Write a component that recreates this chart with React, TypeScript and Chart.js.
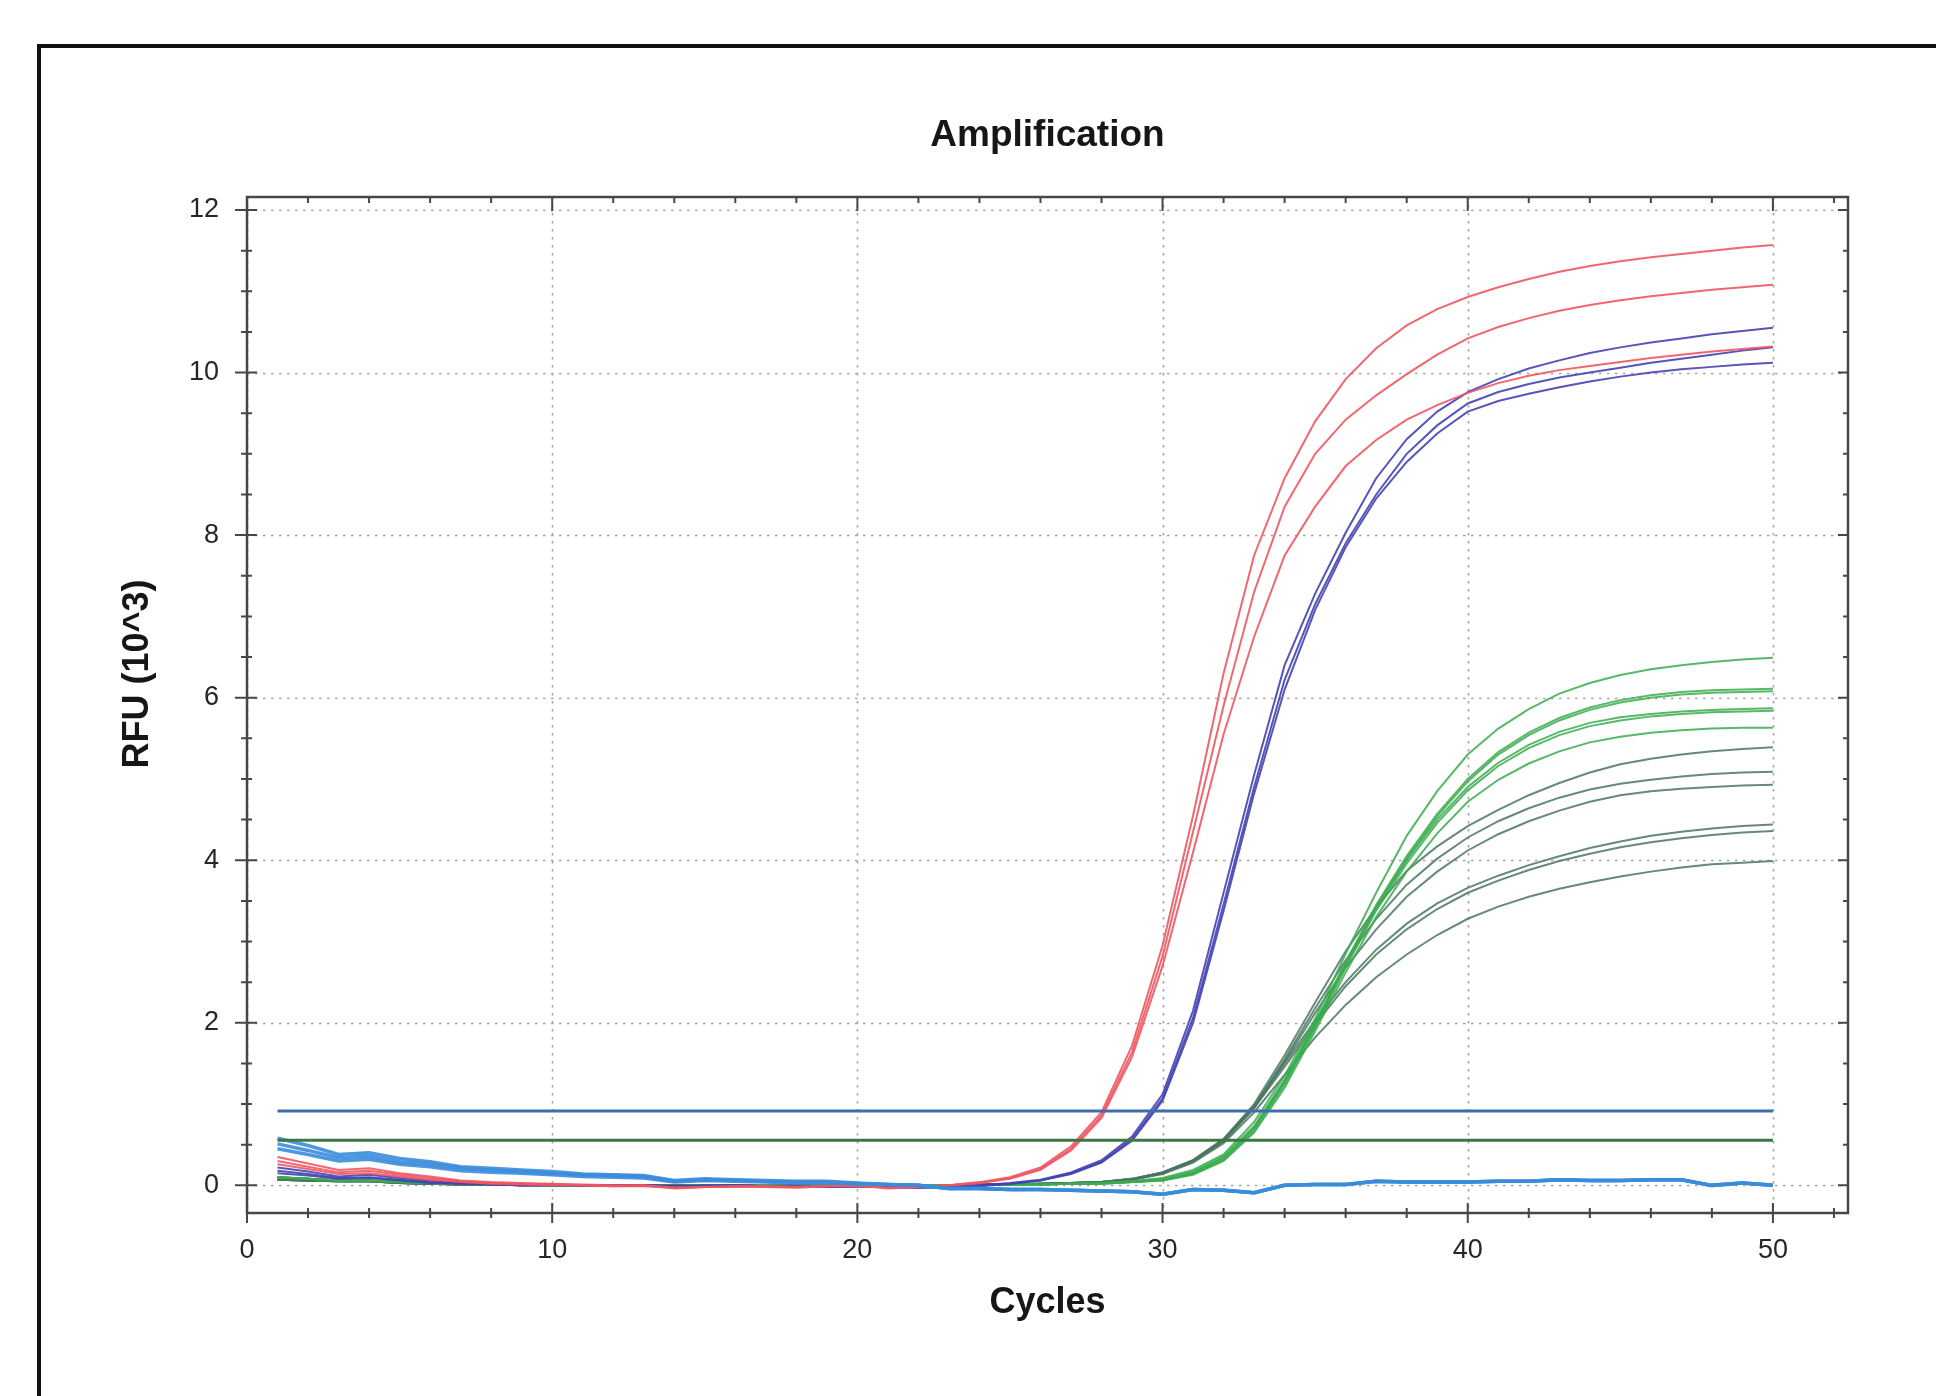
import React, { useEffect, useRef } from "react";
import { Chart, registerables } from "chart.js";

Chart.register(...registerables);

const W = 1936;
const H = 1396;

// ---------- data ----------
const cycles = [
  1, 2, 3, 4, 5, 6, 7, 8, 9, 10, 11, 12, 13, 14, 15, 16, 17, 18, 19, 20, 21, 22, 23, 24, 25,
  26, 27, 28, 29, 30, 31, 32, 33, 34, 35, 36, 37, 38, 39, 40, 41, 42, 43, 44, 45, 46, 47, 48, 49, 50,
];

const xMajorTicks = [0, 10, 20, 30, 40, 50];
const xMinorTicks = [0, 2, 4, 6, 8, 10, 12, 14, 16, 18, 20, 22, 24, 26, 28, 30, 32, 34, 36, 38, 40, 42, 44, 46, 48, 50, 52];
const yMajorTicks = [0, 2, 4, 6, 8, 10, 12];
const yMinorTicks = [
  0, 0.5, 1, 1.5, 2, 2.5, 3, 3.5, 4, 4.5, 5, 5.5, 6, 6.5, 7, 7.5, 8, 8.5, 9, 9.5, 10, 10.5, 11, 11.5, 12,
];

const thresholdBlue = 0.916;
const thresholdGreen = 0.555;
const thresholdSpan = [1, 50];

// light-blue flat traces (cycles 1-20 differ, 21-50 shared)
const lightEarly1 = [0.58, 0.49, 0.38, 0.4, 0.33, 0.29, 0.23, 0.21, 0.19, 0.17, 0.14, 0.13, 0.12, 0.06, 0.08, 0.07, 0.06, 0.05, 0.05, 0.03];
const lightEarly2 = [0.51, 0.43, 0.34, 0.36, 0.29, 0.26, 0.21, 0.19, 0.17, 0.15, 0.13, 0.12, 0.11, 0.05, 0.07, 0.06, 0.05, 0.04, 0.04, 0.02];
const lightEarly3 = [0.45, 0.38, 0.3, 0.32, 0.26, 0.23, 0.18, 0.16, 0.15, 0.13, 0.11, 0.1, 0.09, 0.04, 0.06, 0.05, 0.04, 0.03, 0.03, 0.02];
const lightTail = [
  0.01, 0.0, -0.04, -0.04, -0.05, -0.05, -0.06, -0.07, -0.08, -0.11, -0.05, -0.06, -0.09, 0.0, 0.01,
  0.01, 0.05, 0.04, 0.04, 0.04, 0.05, 0.05, 0.07, 0.06, 0.06, 0.07, 0.07, 0.0, 0.03, 0.0,
];

// red traces (cycles 1-23 and 24-50)
const redEarly1 = [0.35, 0.27, 0.19, 0.21, 0.15, 0.11, 0.06, 0.04, 0.03, 0.02, 0.01, 0.0, 0.0, -0.04, -0.02, -0.02, -0.02, -0.03, -0.01, 0.0, -0.04, -0.02, 0.0];
const redEarly2 = [0.3, 0.23, 0.16, 0.18, 0.13, 0.09, 0.05, 0.03, 0.02, 0.01, 0.0, -0.01, 0.0, -0.03, -0.02, -0.01, -0.01, -0.02, -0.01, 0.0, -0.03, -0.02, 0.0];
const redEarly3 = [0.26, 0.2, 0.14, 0.15, 0.11, 0.07, 0.04, 0.02, 0.01, 0.0, 0.0, -0.01, -0.01, -0.03, -0.02, -0.01, -0.01, -0.02, -0.01, -0.01, -0.03, -0.01, 0.0];
const redTail1 = [0.04, 0.1, 0.22, 0.48, 0.9, 1.72, 2.95, 4.55, 6.3, 7.75, 8.7, 9.4, 9.92, 10.3, 10.58, 10.78, 10.93, 11.05, 11.15, 11.24, 11.31, 11.37, 11.42, 11.46, 11.5, 11.54, 11.57];
const redTail2 = [0.03, 0.09, 0.2, 0.45, 0.86, 1.64, 2.82, 4.35, 5.9, 7.3, 8.35, 9.0, 9.42, 9.72, 9.98, 10.22, 10.42, 10.56, 10.67, 10.76, 10.83, 10.89, 10.94, 10.98, 11.02, 11.05, 11.08];
const redTail3 = [0.03, 0.08, 0.19, 0.43, 0.83, 1.58, 2.7, 4.1, 5.55, 6.75, 7.75, 8.35, 8.85, 9.17, 9.42, 9.6, 9.75, 9.87, 9.96, 10.03, 10.08, 10.13, 10.18, 10.22, 10.26, 10.29, 10.32];

// dark-blue traces (cycles 1-23 and 24-50)
const blueEarly1 = [0.22, 0.17, 0.11, 0.13, 0.09, 0.06, 0.03, 0.02, 0.01, 0.01, 0.0, 0.0, 0.0, -0.01, -0.01, 0.0, -0.01, -0.02, -0.02, -0.01, -0.02, -0.03, -0.02];
const blueEarly2 = [0.18, 0.14, 0.09, 0.1, 0.07, 0.04, 0.02, 0.01, 0.0, 0.0, 0.0, 0.0, 0.0, -0.01, -0.01, 0.0, -0.01, -0.02, -0.02, -0.01, -0.02, -0.03, -0.02];
const blueEarly3 = [0.15, 0.12, 0.08, 0.09, 0.06, 0.03, 0.02, 0.01, 0.0, 0.0, 0.0, 0.0, 0.0, -0.01, 0.0, 0.0, -0.01, -0.01, -0.02, -0.01, -0.02, -0.02, -0.02];
const blueTail1 = [0.0, 0.03, 0.07, 0.16, 0.31, 0.6, 1.12, 2.15, 3.6, 5.05, 6.4, 7.28, 8.03, 8.7, 9.18, 9.52, 9.76, 9.92, 10.05, 10.15, 10.24, 10.31, 10.37, 10.42, 10.47, 10.51, 10.55];
const blueTail2 = [0.0, 0.02, 0.06, 0.15, 0.29, 0.57, 1.07, 2.06, 3.46, 4.9, 6.22, 7.15, 7.9, 8.5, 9.0, 9.35, 9.62, 9.76, 9.86, 9.94, 10.0, 10.06, 10.12, 10.17, 10.22, 10.27, 10.31];
const blueTail3 = [-0.01, 0.02, 0.06, 0.14, 0.28, 0.55, 1.04, 2.0, 3.38, 4.82, 6.1, 7.08, 7.85, 8.45, 8.9, 9.25, 9.52, 9.65, 9.74, 9.82, 9.89, 9.95, 10.0, 10.04, 10.07, 10.1, 10.12];

// green traces (cycles 1-27 and 28-50)
const brightEarly = [0.1, 0.08, 0.06, 0.06, 0.04, 0.03, 0.02, 0.01, 0.01, 0.0, 0.0, 0.0, 0.0, -0.01, 0.0, 0.0, 0.0, -0.01, 0.0, 0.0, -0.01, 0.0, 0.0, 0.0, 0.01, 0.01, 0.02];
const darkEarly = [0.07, 0.06, 0.05, 0.05, 0.03, 0.02, 0.01, 0.01, 0.0, 0.0, 0.0, 0.0, 0.0, 0.0, 0.0, 0.0, 0.0, 0.0, 0.0, 0.0, 0.0, 0.0, 0.0, 0.01, 0.01, 0.02, 0.03];

const greenTail1 = [0.03, 0.05, 0.09, 0.19, 0.38, 0.78, 1.35, 2.05, 2.85, 3.6, 4.3, 4.85, 5.3, 5.62, 5.86, 6.05, 6.18, 6.28, 6.35, 6.4, 6.44, 6.47, 6.49];
const greenTail2 = [0.03, 0.05, 0.08, 0.17, 0.36, 0.73, 1.3, 2.0, 2.75, 3.45, 4.05, 4.57, 5.0, 5.33, 5.57, 5.75, 5.88, 5.97, 6.03, 6.07, 6.09, 6.1, 6.11];
const greenTail3 = [0.03, 0.04, 0.07, 0.16, 0.34, 0.7, 1.27, 1.97, 2.72, 3.42, 4.02, 4.54, 4.97, 5.3, 5.54, 5.72, 5.85, 5.94, 6.0, 6.04, 6.06, 6.07, 6.08];
const greenTail4 = [0.02, 0.04, 0.07, 0.15, 0.33, 0.7, 1.28, 1.98, 2.72, 3.42, 4.0, 4.5, 4.9, 5.2, 5.42, 5.58, 5.69, 5.76, 5.8, 5.83, 5.85, 5.86, 5.87];
const greenTail5 = [0.02, 0.04, 0.06, 0.14, 0.31, 0.67, 1.24, 1.94, 2.68, 3.38, 3.96, 4.46, 4.86, 5.16, 5.38, 5.54, 5.65, 5.72, 5.77, 5.8, 5.82, 5.83, 5.84];
const greenTail6 = [0.02, 0.04, 0.06, 0.13, 0.3, 0.65, 1.2, 1.9, 2.62, 3.3, 3.86, 4.33, 4.72, 4.99, 5.19, 5.34, 5.45, 5.52, 5.57, 5.6, 5.62, 5.63, 5.63];

const darkTail1 = [0.04, 0.08, 0.16, 0.31, 0.57, 1.0, 1.6, 2.25, 2.88, 3.42, 3.87, 4.17, 4.42, 4.62, 4.8, 4.95, 5.08, 5.18, 5.25, 5.3, 5.34, 5.37, 5.39];
const darkTail2 = [0.04, 0.08, 0.16, 0.3, 0.55, 0.97, 1.55, 2.18, 2.77, 3.28, 3.7, 4.02, 4.28, 4.48, 4.64, 4.77, 4.87, 4.94, 4.99, 5.03, 5.06, 5.08, 5.09];
const darkTail3 = [0.04, 0.07, 0.15, 0.29, 0.54, 0.95, 1.52, 2.12, 2.68, 3.15, 3.55, 3.86, 4.12, 4.32, 4.48, 4.61, 4.72, 4.8, 4.85, 4.88, 4.9, 4.92, 4.93];
const darkTail4 = [0.04, 0.08, 0.16, 0.31, 0.57, 0.98, 1.5, 2.03, 2.5, 2.9, 3.22, 3.47, 3.66, 3.81, 3.94, 4.05, 4.15, 4.23, 4.3, 4.35, 4.39, 4.42, 4.44];
const darkTail5 = [0.04, 0.07, 0.15, 0.3, 0.55, 0.95, 1.46, 1.98, 2.45, 2.84, 3.15, 3.4, 3.6, 3.75, 3.88, 3.99, 4.08, 4.16, 4.22, 4.27, 4.31, 4.34, 4.36];
const darkTail6 = [0.03, 0.07, 0.14, 0.28, 0.52, 0.9, 1.36, 1.82, 2.22, 2.56, 2.84, 3.08, 3.28, 3.43, 3.55, 3.65, 3.73, 3.8, 3.86, 3.91, 3.95, 3.97, 3.99];

// ---------- styles ----------
const COLORS = {
  light: "rgba(58,140,220,0.9)",
  red: "rgba(240,86,96,0.9)",
  blue: "rgba(66,66,178,0.9)",
  bright: "rgba(58,172,78,0.85)",
  dark: "rgba(74,118,96,0.85)",
  thrBlue: "#3d6fae",
  thrGreen: "#3b7843",
};

const FONT = "'Liberation Sans', Arial, Helvetica, sans-serif";

function toPoints(values: number[]) {
  return values.map((v, i) => ({ x: cycles[i], y: v }));
}

function series(values: number[], color: string, width: number) {
  return {
    data: toPoints(values),
    borderColor: color,
    backgroundColor: color,
    borderWidth: width,
    pointRadius: 0,
    tension: 0,
    fill: false,
  };
}

function threshold(value: number, color: string) {
  return {
    data: thresholdSpan.map((c) => ({ x: c, y: value })),
    borderColor: color,
    backgroundColor: color,
    borderWidth: 3,
    pointRadius: 0,
    tension: 0,
    fill: false,
  };
}

const decorPlugin = {
  id: "decor",
  beforeDraw(chart: any) {
    const ctx = chart.ctx;
    ctx.save();
    ctx.fillStyle = "#ffffff";
    ctx.fillRect(0, 0, W, H);
    ctx.fillStyle = "#111111";
    ctx.fillRect(37, 44, W - 37, 4);
    ctx.fillRect(37, 44, 4, H - 44);
    ctx.restore();
  },
  beforeDatasetsDraw(chart: any) {
    const { ctx, chartArea: a, scales } = chart;
    const x = scales.x;
    const y = scales.y;
    ctx.save();
    ctx.strokeStyle = "#a4a4a4";
    ctx.lineWidth = 1.6;
    ctx.setLineDash([2.5, 5.5]);
    for (const c of xMajorTicks) {
      const px = Math.round(x.getPixelForValue(c)) + 0.5;
      ctx.beginPath();
      ctx.moveTo(px, a.top);
      ctx.lineTo(px, a.bottom);
      ctx.stroke();
    }
    for (const v of yMajorTicks) {
      const py = Math.round(y.getPixelForValue(v)) + 0.5;
      ctx.beginPath();
      ctx.moveTo(a.left, py);
      ctx.lineTo(a.right, py);
      ctx.stroke();
    }
    ctx.restore();
  },
  afterDatasetsDraw(chart: any) {
    const { ctx, chartArea: a, scales } = chart;
    const x = scales.x;
    const y = scales.y;
    ctx.save();
    ctx.strokeStyle = "#474747";
    ctx.lineWidth = 2.5;
    ctx.strokeRect(a.left, a.top, a.right - a.left, a.bottom - a.top);
    ctx.lineWidth = 2;
    ctx.beginPath();
    for (const v of yMinorTicks) {
      const py = y.getPixelForValue(v);
      const major = yMajorTicks.includes(v);
      ctx.moveTo(a.left - (major ? 12 : 6), py);
      ctx.lineTo(a.left + (major ? 10 : 5), py);
      ctx.moveTo(a.right - (major ? 10 : 5), py);
      ctx.lineTo(a.right, py);
    }
    for (const c of xMinorTicks) {
      const px = x.getPixelForValue(c);
      const major = xMajorTicks.includes(c);
      ctx.moveTo(px, a.bottom - (major ? 10 : 5));
      ctx.lineTo(px, a.bottom + (major ? 10 : 5));
      ctx.moveTo(px, a.top);
      ctx.lineTo(px, a.top + (major ? 14 : 6));
    }
    ctx.stroke();
    ctx.restore();
  },
  afterDraw(chart: any) {
    const { ctx, chartArea: a } = chart;
    const cx = (a.left + a.right) / 2;
    ctx.save();
    ctx.fillStyle = "#161616";
    ctx.textAlign = "center";
    ctx.textBaseline = "middle";
    ctx.font = `bold 37px ${FONT}`;
    ctx.fillText("Amplification", cx, 136);
    ctx.font = `bold 36px ${FONT}`;
    ctx.fillText("Cycles", cx, 1303);
    ctx.translate(138, 674);
    ctx.rotate(-Math.PI / 2);
    ctx.fillText("RFU (10^3)", 0, 0);
    ctx.restore();
  },
};

export default function App() {
  const canvasRef = useRef<HTMLCanvasElement | null>(null);

  useEffect(() => {
    const canvas = canvasRef.current;
    if (!canvas) return;

    const datasets: any[] = [
      threshold(thresholdBlue, COLORS.thrBlue),
      threshold(thresholdGreen, COLORS.thrGreen),
      series([...lightEarly1, ...lightTail], COLORS.light, 3.5),
      series([...lightEarly2, ...lightTail], COLORS.light, 3.5),
      series([...lightEarly3, ...lightTail], COLORS.light, 3.5),
      series([...redEarly1, ...redTail1], COLORS.red, 2),
      series([...redEarly2, ...redTail2], COLORS.red, 2),
      series([...redEarly3, ...redTail3], COLORS.red, 2),
      series([...blueEarly1, ...blueTail1], COLORS.blue, 2),
      series([...blueEarly2, ...blueTail2], COLORS.blue, 2),
      series([...blueEarly3, ...blueTail3], COLORS.blue, 2),
      series([...brightEarly, ...greenTail1], COLORS.bright, 2),
      series([...brightEarly, ...greenTail2], COLORS.bright, 2),
      series([...brightEarly, ...greenTail3], COLORS.bright, 2),
      series([...brightEarly, ...greenTail4], COLORS.bright, 2),
      series([...brightEarly, ...greenTail5], COLORS.bright, 2),
      series([...brightEarly, ...greenTail6], COLORS.bright, 2),
      series([...darkEarly, ...darkTail1], COLORS.dark, 2),
      series([...darkEarly, ...darkTail2], COLORS.dark, 2),
      series([...darkEarly, ...darkTail3], COLORS.dark, 2),
      series([...darkEarly, ...darkTail4], COLORS.dark, 2),
      series([...darkEarly, ...darkTail5], COLORS.dark, 2),
      series([...darkEarly, ...darkTail6], COLORS.dark, 2),
    ];

    const tickFont = { family: FONT, size: 27 };

    const chart = new Chart(canvas, {
      type: "line",
      data: { datasets },
      options: {
        animation: false,
        responsive: false,
        devicePixelRatio: 1,
        layout: { padding: { top: 197, right: 88, left: 0, bottom: 0 } },
        plugins: {
          legend: { display: false },
          title: { display: false },
          tooltip: { enabled: false },
        },
        events: [],
        scales: {
          x: {
            type: "linear",
            min: 0,
            max: 52.46,
            grid: { display: false, drawTicks: false },
            border: { display: false },
            ticks: { padding: 21, font: tickFont, color: "#262626", maxRotation: 0 },
            afterBuildTicks: (scale: any) => {
              scale.ticks = xMajorTicks.map((v) => ({ value: v }));
            },
            afterFit: (scale: any) => {
              scale.height = 183;
            },
          },
          y: {
            type: "linear",
            min: -0.34,
            max: 12.16,
            grid: { display: false, drawTicks: false },
            border: { display: false },
            ticks: { padding: 28, font: tickFont, color: "#262626" },
            afterBuildTicks: (scale: any) => {
              scale.ticks = yMajorTicks.map((v) => ({ value: v }));
            },
            afterFit: (scale: any) => {
              scale.width = 247;
            },
          },
        },
      },
      plugins: [decorPlugin],
    });

    return () => {
      chart.destroy();
    };
  }, []);

  return (
    <div style={{ position: "fixed", left: 0, top: 0, width: W, height: H, background: "#fff" }}>
      <canvas ref={canvasRef} width={W} height={H} style={{ display: "block", width: W, height: H }} />
    </div>
  );
}
